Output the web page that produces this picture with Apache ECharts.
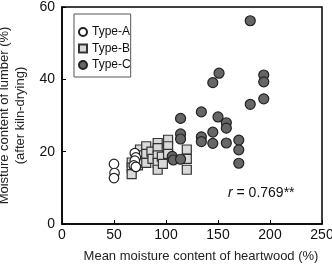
<!DOCTYPE html>
<html>
<head>
<meta charset="utf-8">
<script src="https://cdn.jsdelivr.net/npm/echarts@6/dist/echarts.min.js"></script>
<style>
  html, body { margin: 0; padding: 0; background: #fff; }
  #chart { width: 332px; height: 265px; }
</style>
</head>
<body>
<div id="chart"></div>
<script>
// 心材含水率 vs 干燥后含水率
var seriesNames = ['Type-A', 'Type-B', 'Type-C']

var typeA = [
  [50, 16.6], [50.5, 14.1], [50, 12.7],
  [70, 19.6], [71, 18.4], [70, 17.5], [69, 16.2], [71, 15.8]
]
var typeB = [
  [67, 17.0], [67, 15.6], [67, 13.8],
  [72, 18.2], [73, 16.2],
  [75, 20.6], [76, 19.0], [77, 17.4],
  [81, 21.5], [81, 19.4], [81, 16.9],
  [86, 20.0], [87, 18.0],
  [92, 22.4], [92, 21.0], [92, 19.0], [92, 16.9], [92, 15.0],
  [96, 18.6], [97, 16.6],
  [102, 23.3], [102, 21.5], [102, 19.4],
  [120, 20.6], [120, 18.0], [120, 15.0]
]
var typeC = [
  [181, 56.2], [151, 41.7], [145, 39.1], [194, 41.2], [194, 39.3],
  [181, 33.1], [194, 34.6], [134, 31.0], [114, 29.2], [150, 29.6],
  [158, 28.0], [158, 26.5], [145, 25.4], [114, 24.9], [114, 23.5],
  [134, 24.1], [134, 22.8], [145, 22.3], [158, 22.4], [170, 23.2],
  [170, 20.5], [170, 16.8], [106, 18.7], [107, 17.7], [114, 17.9]
]
var xTicks = [0, 50, 100, 150, 200, 250]
var yTicks = [0, 20, 40, 60]
var rText = '0.769**'

var dom = document.getElementById('chart')
var chart = echarts.init(dom)

var font = 'Liberation Sans, Arial, sans-serif'

function axisBase() {
  return {
    type: 'value',
    axisLine: { show: true, lineStyle: { color: '#000', width: 1.5 } },
    axisTick: { show: true, inside: true, length: 4, lineStyle: { color: '#000', width: 1 } },
    splitLine: { show: false },
    axisLabel: { color: '#111', fontSize: 14, fontFamily: font },
    nameLocation: 'middle',
    nameTextStyle: { color: '#222', fontSize: 13, fontFamily: font }
  }
}

var xAxis = axisBase()
xAxis.min = xTicks[0]
xAxis.max = xTicks[xTicks.length - 1]
xAxis.interval = xTicks[1] - xTicks[0]
xAxis.name = 'Mean moisture content of heartwood (%)'
xAxis.nameGap = 26
xAxis.nameTextStyle.padding = [0, 0, 0, 18]
xAxis.axisLabel.margin = 4

var yAxis = axisBase()
yAxis.min = yTicks[0]
yAxis.max = yTicks[yTicks.length - 1]
yAxis.interval = yTicks[1] - yTicks[0]
yAxis.name = 'Moisture content of lumber (%)\n(after kiln-drying)'
yAxis.nameGap = 24
yAxis.nameTextStyle.lineHeight = 16
yAxis.axisLabel.margin = 7

var option = {
  animation: false,
  grid: {
    left: 62, right: 10, top: 7, bottom: 41,
    outerBoundsMode: 'none', containLabel: false,
    show: true, borderColor: '#000', borderWidth: 1.5
  },
  legend: {
    orient: 'vertical',
    left: 74,
    top: 14,
    padding: [12, 0, 6, 4],
    itemGap: 4.5,
    itemWidth: 8,
    itemHeight: 8,
    borderColor: '#555',
    borderWidth: 1,
    textStyle: { color: '#111', fontSize: 12, fontFamily: font },
    data: seriesNames
  },
  xAxis: xAxis,
  yAxis: yAxis,
  series: [
    {
      name: seriesNames[1], type: 'scatter', symbol: 'rect', symbolSize: 9, z: 2,
      itemStyle: { color: '#d9d9d9', borderColor: '#333', borderWidth: 1.2, opacity: 1 },
      data: typeB
    },
    {
      name: seriesNames[0], type: 'scatter', symbol: 'circle', symbolSize: 9.5, z: 3,
      itemStyle: { color: '#fff', borderColor: '#222', borderWidth: 1.2, opacity: 1 },
      data: typeA
    },
    {
      name: seriesNames[2], type: 'scatter', symbol: 'circle', symbolSize: 10, z: 4,
      itemStyle: { color: '#666', borderColor: '#222', borderWidth: 1.2, opacity: 1 },
      data: typeC
    }
  ],
  graphic: [
    {
      type: 'text',
      left: 228,
      top: 186,
      style: {
        text: '{i|r} = ' + rText,
        fill: '#111',
        font: '14px ' + font,
        rich: {
          i: { fontStyle: 'italic', fontSize: 14, fontFamily: font, fill: '#111' }
        }
      }
    }
  ]
}

chart.setOption(option)
</script>
</body>
</html>
